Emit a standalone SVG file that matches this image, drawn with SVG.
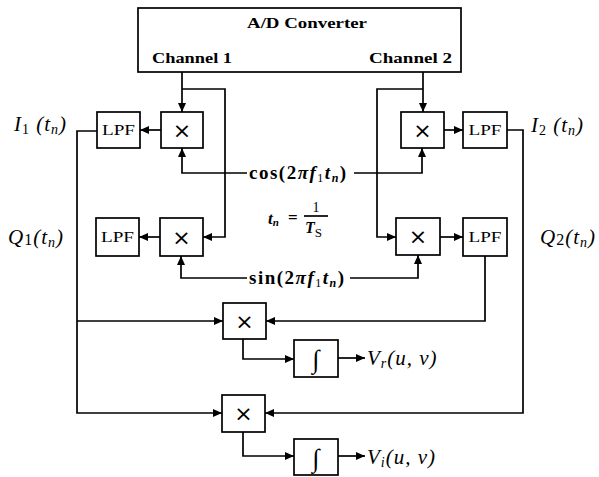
<svg xmlns="http://www.w3.org/2000/svg" width="599" height="477" viewBox="0 0 599 477">
<style>
.ln{fill:none;stroke:#000;stroke-width:1.7}
.bx{fill:#fff;stroke:#000;stroke-width:1.7}
.lab{font-family:"Liberation Serif",serif;font-style:italic;font-size:21px;letter-spacing:1px}
.bold{font-family:"Liberation Serif",serif;font-weight:bold;font-size:15px}
.eq{font-family:"Liberation Serif",serif;font-weight:bold;font-size:19px}
.lpf{font-family:"Liberation Serif",serif;font-size:15px;text-anchor:middle}
.mul{font-family:"DejaVu Sans",sans-serif;font-size:22px;text-anchor:middle}
.int{font-family:"Liberation Serif",serif;font-size:26px;text-anchor:middle}
</style>
<defs>
<marker id="ah" markerWidth="10" markerHeight="8" refX="9" refY="4" orient="auto" markerUnits="userSpaceOnUse"><path d="M0,0 L9,4 L0,8 z" fill="#000"/></marker>
</defs>
<g id="connectors">
<path class="ln" d="M182,72 V112" marker-end="url(#ah)"/>
<path class="ln" d="M182,89 H225 V237 H203" marker-end="url(#ah)"/>
<path class="ln" d="M423,72 V112" marker-end="url(#ah)"/>
<path class="ln" d="M423,89 H377 V237 H396" marker-end="url(#ah)"/>
<path class="ln" d="M161,130 H140" marker-end="url(#ah)"/>
<path class="ln" d="M444,130 H463" marker-end="url(#ah)"/>
<path class="ln" d="M160,237 H139" marker-end="url(#ah)"/>
<path class="ln" d="M440,237 H463" marker-end="url(#ah)"/>
<path class="ln" d="M247,173 H182 V148" marker-end="url(#ah)"/>
<path class="ln" d="M354,173 H422 V148" marker-end="url(#ah)"/>
<path class="ln" d="M247,278 H181 V256" marker-end="url(#ah)"/>
<path class="ln" d="M350,278 H418 V255" marker-end="url(#ah)"/>
<path class="ln" d="M97,131 H77 V413 H222" marker-end="url(#ah)"/>
<path class="ln" d="M77,321 H223" marker-end="url(#ah)"/>
<path class="ln" d="M507,130 H523 V413 H265" marker-end="url(#ah)"/>
<path class="ln" d="M485,256 V321 H266" marker-end="url(#ah)"/>
<path class="ln" d="M243,339 V359 H294" marker-end="url(#ah)"/>
<path class="ln" d="M338,358 H365" marker-end="url(#ah)"/>
<path class="ln" d="M243,432 V456 H294" marker-end="url(#ah)"/>
<path class="ln" d="M338,456 H365" marker-end="url(#ah)"/>
</g>
<g id="adc">
<rect class="bx" x="138" y="8" width="323" height="64"/>
<text class="bold" x="247" y="28" textLength="120" lengthAdjust="spacingAndGlyphs">A/D Converter</text>
<text class="bold" x="152" y="63" textLength="80" lengthAdjust="spacingAndGlyphs">Channel 1</text>
<text class="bold" x="369" y="63" textLength="83" lengthAdjust="spacingAndGlyphs">Channel 2</text>
</g>
<g id="mulA"><rect class="bx" x="161" y="112" width="42" height="36"/><text class="mul" x="182" y="138">×</text></g>
<g id="lpfA"><rect class="bx" x="97" y="112" width="43" height="36"/><text class="lpf" x="118.5" y="135" textLength="33" lengthAdjust="spacingAndGlyphs">LPF</text></g>
<g id="mulB"><rect class="bx" x="160" y="218" width="43" height="38"/><text class="mul" x="181.5" y="245">×</text></g>
<g id="lpfB"><rect class="bx" x="96" y="218" width="43" height="38"/><text class="lpf" x="117.5" y="242" textLength="33" lengthAdjust="spacingAndGlyphs">LPF</text></g>
<g id="mulC"><rect class="bx" x="401" y="112" width="43" height="36"/><text class="mul" x="422.5" y="138">×</text></g>
<g id="lpfC"><rect class="bx" x="463" y="112" width="44" height="36"/><text class="lpf" x="485" y="135" textLength="33" lengthAdjust="spacingAndGlyphs">LPF</text></g>
<g id="mulD"><rect class="bx" x="396" y="218" width="44" height="37"/><text class="mul" x="418" y="244">×</text></g>
<g id="lpfD"><rect class="bx" x="463" y="218" width="44" height="38"/><text class="lpf" x="485" y="242" textLength="33" lengthAdjust="spacingAndGlyphs">LPF</text></g>
<g id="mulE"><rect class="bx" x="223" y="303" width="43" height="36"/><text class="mul" x="244.5" y="329">×</text></g>
<g id="intE"><rect class="bx" x="294" y="340" width="44" height="37"/><text class="int" x="316" y="368">∫</text></g>
<g id="mulF"><rect class="bx" x="222" y="395" width="43" height="37"/><text class="mul" x="243.5" y="421">×</text></g>
<g id="intF"><rect class="bx" x="294" y="439" width="44" height="36"/><text class="int" x="316" y="467">∫</text></g>
<g id="labels">
<text class="lab" x="14" y="131">I<tspan dy="3" font-size="14" font-style="normal">1</tspan><tspan dy="-3"> (t</tspan><tspan dy="3" font-size="14">n</tspan><tspan dy="-3">)</tspan></text>
<text class="lab" x="531" y="132">I<tspan dy="3" font-size="14" font-style="normal">2</tspan><tspan dy="-3"> (t</tspan><tspan dy="3" font-size="14">n</tspan><tspan dy="-3">)</tspan></text>
<text class="lab" x="8" y="244">Q<tspan dy="1" font-size="16" font-style="normal">1</tspan><tspan dy="-1">(t</tspan><tspan dy="3" font-size="14">n</tspan><tspan dy="-3">)</tspan></text>
<text class="lab" x="540" y="244">Q<tspan dy="1" font-size="16" font-style="normal">2</tspan><tspan dy="-1">(t</tspan><tspan dy="3" font-size="14">n</tspan><tspan dy="-3">)</tspan></text>
<text class="eq" x="249" y="179" letter-spacing="1.5">cos(2<tspan font-style="italic">πf</tspan><tspan dy="3" font-size="12" font-weight="normal">1</tspan><tspan dy="-3" font-style="italic">t</tspan><tspan dy="3" font-size="12" font-style="italic">n</tspan><tspan dy="-3">)</tspan></text>
<text class="eq" x="249" y="284" letter-spacing="1.5">sin(2<tspan font-style="italic">πf</tspan><tspan dy="3" font-size="12" font-weight="normal">1</tspan><tspan dy="-3" font-style="italic">t</tspan><tspan dy="3" font-size="12" font-style="italic">n</tspan><tspan dy="-3">)</tspan></text>
<text class="eq" x="268" y="224" style="font-style:italic;font-size:17px">t<tspan dy="2" font-size="11">n</tspan></text>
<text class="eq" x="288" y="223" style="font-size:17px">=</text>
<line class="ln" x1="304" y1="216" x2="328" y2="216" stroke-width="1.3"/>
<text class="eq" x="316" y="212" style="font-size:14px;font-weight:normal" text-anchor="middle">1</text>
<text class="eq" x="305" y="233" style="font-style:italic;font-size:16px">T<tspan dy="4" font-size="13" font-style="normal" font-weight="normal">S</tspan></text>
<text class="lab" x="367" y="365">V<tspan dy="3" font-size="14">r</tspan><tspan dy="-3">(u, v)</tspan></text>
<text class="lab" x="367" y="464">V<tspan dy="3" font-size="14">i</tspan><tspan dy="-3">(u, v)</tspan></text>
</g>
</svg>
